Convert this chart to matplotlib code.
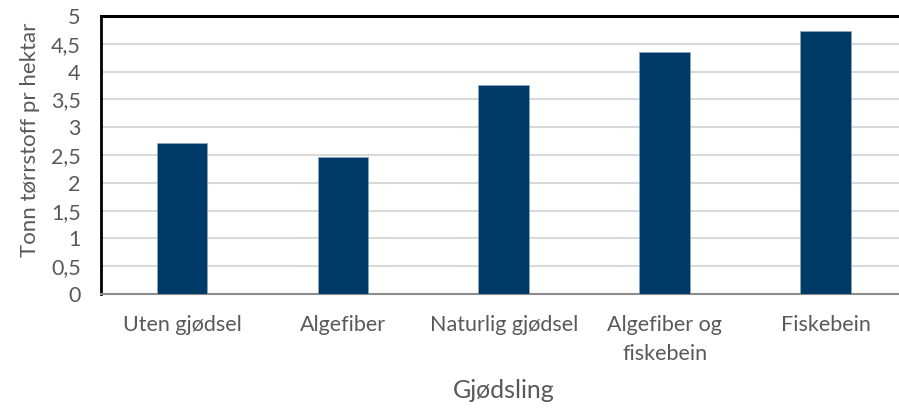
import matplotlib.pyplot as plt

#################### Data ####################

kategorier = ['Uten gjødsel', 'Algefiber', 'Naturlig gjødsel',
              'Algefiber og\nfiskebein', 'Fiskebein']
tonn = [2.72, 2.46, 3.75, 4.35, 4.73]
yticks = [0, 0.5, 1, 1.5, 2, 2.5, 3, 3.5, 4, 4.5, 5]
ytick_txt = ['0', '0,5', '1', '1,5', '2', '2,5', '3', '3,5', '4', '4,5', '5']

#################### Form ####################

plt.rcParams['font.family'] = ['Lato', 'DejaVu Sans']
GRA = '#595959'
BAR = '#003a66'

fig = plt.figure(figsize=(8.99, 4.08), dpi=100)
ax = fig.add_axes([0.1129, 0.2794, 0.8949, 0.6814])

X = list(range(len(kategorier)))
ax.bar(X, tonn, width=0.315, color=BAR, edgecolor='#8faac4', linewidth=0.4, zorder=3)

ax.set_xlim(-0.5, len(kategorier) - 0.5)
ax.set_ylim(0, 5)
ax.set_yticks(yticks)
ax.set_yticklabels(ytick_txt)
ax.set_xticks(X)
ax.set_xticklabels(kategorier, linespacing=1.55)

ax.grid(axis='y', color='#d9d9d9', linewidth=1.5, zorder=0)
ax.tick_params(axis='both', length=0, colors=GRA, labelsize=15.5)
ax.tick_params(axis='x', pad=15)
ax.tick_params(axis='y', pad=15)

ax.spines['left'].set_color('black')
ax.spines['left'].set_linewidth(2)
ax.spines['top'].set_color('black')
ax.spines['top'].set_linewidth(2.2)
ax.spines['bottom'].set_color('#8c8c8c')
ax.spines['bottom'].set_linewidth(1.5)
ax.spines['right'].set_visible(False)

fig.text(504 / 899, 1 - 391 / 408, 'Gjødsling', fontsize=18, color=GRA,
         ha='center', va='center')
fig.text(30 / 899, 1 - 140 / 408, 'Tonn tørrstoff pr hektar', fontsize=16,
         color=GRA, ha='center', va='center', rotation=90)

plt.savefig('out.png', dpi=100)
